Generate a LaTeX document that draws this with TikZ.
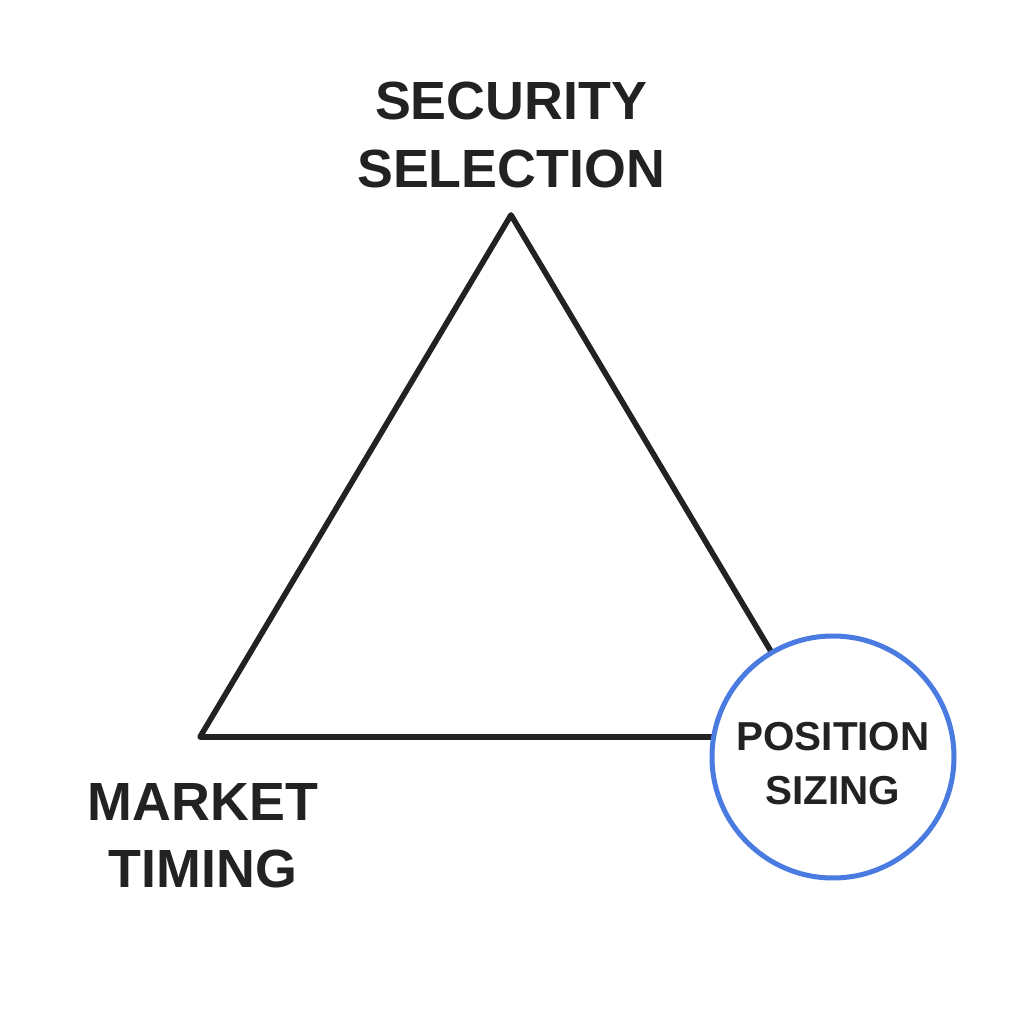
\documentclass[tikz,border=0pt]{standalone}
\usepackage{fontspec}
\setmainfont{Liberation Sans}
\usepackage{xcolor}
\usepackage{tikz}
\usetikzlibrary{positioning,calc}
\definecolor{inkdark}{RGB}{34,34,34}
\definecolor{sizeblue}{RGB}{74,123,224}
\tikzset{
  corner/.style={align=center,inner sep=0pt,text=inkdark,
            font=\fontsize{15.3}{19.1}\selectfont\bfseries},
  ring/.style={circle,draw=sizeblue,line width=0.5mm,fill=white,
            minimum size=2.42cm,inner sep=0pt},
  ringtext/.style={align=center,inner sep=0pt,text=inkdark,
            font=\fontsize{11.5}{15.4}\selectfont\bfseries},
  edge/.style={line width=0.56mm,inkdark,line join=round},
}
\begin{document}
\begin{tikzpicture}
  \useasboundingbox[fill=white] (0,0) rectangle (10.24,10.24);
  % triangle corners
  \coordinate (top) at (5.11,8.09);
  \coordinate (left) at (2.00,2.87);
  \coordinate (right) at (8.22,2.87);
  \draw[edge] (top) -- (left) -- (right) -- cycle;
  % labels
  \node[corner] (sec) at (5.11,8.89) {SECURITY\\SELECTION};
  \node[corner] (mkt) at (2.03,1.88) {MARKET\\TIMING};
  \node[ring] (pos) at (8.33,2.67) {};
  \node[ringtext,below=0.07cm of pos.center,anchor=center] (postxt) {POSITION\\SIZING};
\end{tikzpicture}
\end{document}
